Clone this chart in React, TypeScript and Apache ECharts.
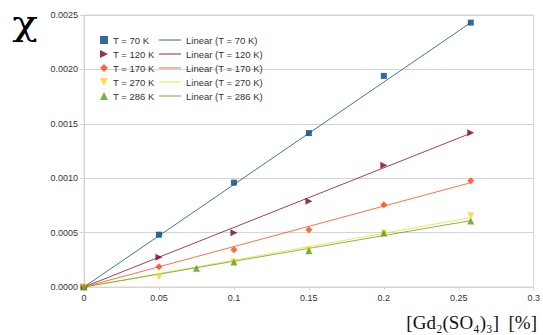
import React, { useEffect, useRef } from "react";
import * as echarts from "echarts";

const seriesNames = ["T = 70 K", "T = 120 K", "T = 170 K", "T = 270 K", "T = 286 K"];
const fitNames = ["Linear (T = 70 K)", "Linear (T = 120 K)", "Linear (T = 170 K)", "Linear (T = 270 K)", "Linear (T = 286 K)"];
const colors = ["#004586", "#7e0021", "#ff420e", "#ffd320", "#579d1c"];

const x70 = [0, 0.05, 0.1, 0.15, 0.2, 0.258];
const y70 = [0, 0.000481, 0.000959, 0.001415, 0.00194, 0.00243];
const x120 = [0, 0.05, 0.1, 0.15, 0.2, 0.258];
const y120 = [0, 0.000273, 0.000499, 0.000788, 0.00112, 0.001418];
const x170 = [0, 0.05, 0.1, 0.15, 0.2, 0.258];
const y170 = [0, 0.000187, 0.000343, 0.000527, 0.000757, 0.000977];
const x270 = [0, 0.05, 0.1, 0.15, 0.2, 0.258];
const y270 = [0, 0.000095, 0.00023, 0.000337, 0.000493, 0.000655];
const x286 = [0, 0.075, 0.1, 0.15, 0.2, 0.258];
const y286 = [0, 0.000172, 0.00023, 0.000334, 0.000496, 0.000607];

// linear fit lines: start x/end x and end value
const fitX = [0, 0.258];
const fitEnd = [0.00243, 0.001413, 0.000959, 0.000637, 0.00061];

const xTicks = ["0", "0.05", "0.1", "0.15", "0.2", "0.25", "0.3"];

const symbols = [
  "rect",
  "path://M0,0L10,5L0,10Z",
  "diamond",
  "path://M0,0L10,0L5,10Z",
  "path://M5,0L10,10L0,10Z",
];

export default function App() {
  const ref = useRef<HTMLDivElement>(null);
  useEffect(() => {
    document.body.style.margin = "0";
    if (!ref.current) return;
    const chart = echarts.init(ref.current, undefined, { renderer: "svg" });
    const xs = [x70, x120, x170, x270, x286];
    const ys = [y70, y120, y170, y270, y286];
    const font = "Liberation Sans";
    const scatter = seriesNames.map((name, i) => ({
      name,
      type: "scatter",
      data: xs[i].map((x, j) => [x, ys[i][j]]),
      symbol: symbols[i],
      symbolSize: i === 0 ? 6 : 7,
      itemStyle: { color: colors[i] },
      z: 3,
    }));
    const fits = fitNames.map((name, i) => ({
      name,
      type: "line",
      data: [
        [fitX[0], 0],
        [fitX[1], fitEnd[i]],
      ],
      symbol: "none",
      lineStyle: { color: colors[i], width: 1, opacity: 0.75 },
      itemStyle: { color: colors[i] },
      z: 2,
    }));
    const legendText = { fontFamily: font, fontSize: 9.5, color: "#333", lineHeight: 12 };
    chart.setOption({
      animation: false,
      grid: {
        left: 84,
        right: 7,
        top: 15,
        bottom: 48,
        show: true,
        borderColor: "#d4d4d4",
        borderWidth: 1,
      },
      legend: [
        {
          orient: "vertical",
          top: 29,
          itemGap: 2,
          left: 95,
          itemWidth: 8,
          itemHeight: 8,
          data: seriesNames.map((n, i) => ({ name: n, icon: symbols[i] })),
          textStyle: legendText,
        },
        {
          orient: "vertical",
          top: 29,
          itemGap: 2,
          left: 154,
          itemWidth: 22,
          itemHeight: 1.2,
          data: fitNames.map((n, i) => ({ name: n, icon: "rect", itemStyle: { color: colors[i], opacity: 0.7 } })),
          textStyle: legendText,
        },
      ],
      xAxis: {
        type: "value",
        min: 0,
        max: 0.3,
        interval: 0.05,
        axisLine: { show: true, lineStyle: { color: "#d4d4d4" } },
        axisTick: { show: true, length: 3, lineStyle: { color: "#d4d4d4" } },
        splitLine: { show: false },
        axisLabel: {
          fontFamily: font,
          fontSize: 9,
          color: "#333",
          margin: 6,
          formatter: (v: number) => xTicks[Math.round(v / 0.05)],
        },
      },
      yAxis: {
        type: "value",
        min: 0,
        max: 0.0025,
        interval: 0.0005,
        axisLine: { show: true, lineStyle: { color: "#d4d4d4" } },
        axisTick: { show: true, length: 4, lineStyle: { color: "#d4d4d4" } },
        splitLine: { show: true, lineStyle: { color: "#d4d4d4", width: 1 } },
        axisLabel: {
          fontFamily: font,
          fontSize: 9,
          color: "#333",
          margin: 6,
          formatter: (v: number) => v.toFixed(4),
        },
      },
      graphic: [
        {
          type: "text",
          x: 25,
          y: 23,
          scaleX: 1.25,
          style: {
            text: "χ",
            font: "34px 'DejaVu Serif'",
            fill: "#000",
            align: "center",
            verticalAlign: "middle",
          },
        },
        {
          type: "text",
          x: 537,
          y: 322,
          style: {
            text: "[Gd₂(SO₄)₃]  [%]",
            font: "19px 'Liberation Serif'",
            fill: "#111",
            align: "right",
            verticalAlign: "middle",
          },
        },
      ],
      series: [...fits, ...scatter],
    });
    return () => chart.dispose();
  }, []);
  return <div ref={ref} style={{ width: 543, height: 335 }} />;
}
